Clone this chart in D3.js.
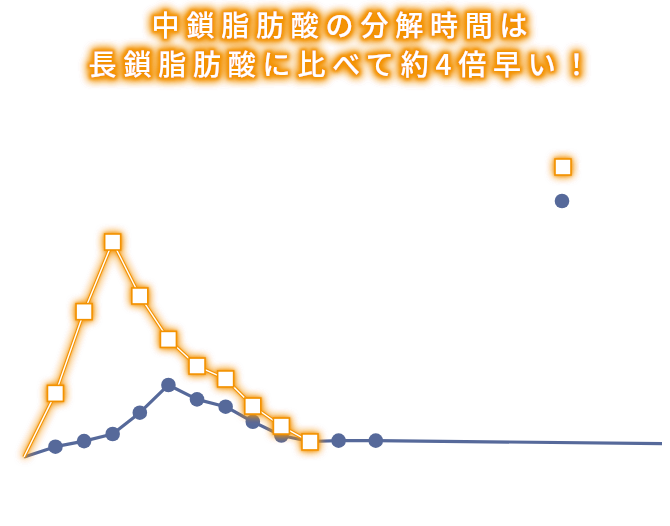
<!DOCTYPE html>
<html><head><meta charset="utf-8">
<script src="https://cdn.jsdelivr.net/npm/d3@7"></script>
<style>body{margin:0;background:#fff}svg{display:block}</style>
</head><body><svg id="c" width="670" height="526"></svg>
<script>
const titleLines = ["中鎖脂肪酸の分解時間は", "長鎖脂肪酸に比べて約4倍早い！"];
const seriesNames = ["中鎖脂肪酸", "長鎖脂肪酸"];
const mctX = [0, 1.1, 2.1, 3.1, 4.05, 5.05, 6.05, 7.05, 8, 9, 10];
const mctY = [0, 29.6, 67.6, 100, 74.9, 54.7, 42.3, 36.3, 23.7, 14.4, 7.0];
const lctX = [0, 1.1, 2.1, 3.1, 4.05, 5.05, 6.05, 7.05, 8, 9, 10, 11, 12.3, 24];
const lctY = [0, 4.8, 7.4, 10.7, 20.6, 33.5, 26.8, 23.4, 16.4, 10.0, 7.2, 7.6, 7.6, 6.0];

const W = 670, H = 526;
const ORANGE = "#f39200", BLUE = "#56699a";
const svg = d3.select("#c");
const defs = svg.append("defs");

function glow(id, s1, o1, s2, o2, dil) {
  const f = defs.append("filter").attr("id", id)
    .attr("filterUnits", "userSpaceOnUse").attr("x", 0).attr("y", 0).attr("width", W).attr("height", H);
  let src = "SourceAlpha";
  if (dil) { f.append("feMorphology").attr("in", "SourceAlpha").attr("operator", "dilate").attr("radius", dil).attr("result", "d"); src = "d"; }
  f.append("feGaussianBlur").attr("in", src).attr("stdDeviation", s1).attr("result", "b1");
  f.append("feFlood").attr("flood-color", ORANGE).attr("flood-opacity", o1).attr("result", "f1");
  f.append("feComposite").attr("in", "f1").attr("in2", "b1").attr("operator", "in").attr("result", "g1");
  f.append("feGaussianBlur").attr("in", src).attr("stdDeviation", s2).attr("result", "b2");
  f.append("feFlood").attr("flood-color", ORANGE).attr("flood-opacity", o2).attr("result", "f2");
  f.append("feComposite").attr("in", "f2").attr("in2", "b2").attr("operator", "in").attr("result", "g2");
  const m = f.append("feMerge");
  m.append("feMergeNode").attr("in", "g2");
  m.append("feMergeNode").attr("in", "g2");
  m.append("feMergeNode").attr("in", "g2");
  m.append("feMergeNode").attr("in", "g1");
  m.append("feMergeNode").attr("in", "SourceGraphic");
}
glow("glowS", 1.5, 0.8, 4.5, 0.55, 0);
glow("glowT", 1.5, 0.95, 5, 0.8, 1.5);

const x = d3.scaleLinear().domain([0, 10]).range([24, 310]);
const y = d3.scaleLinear().domain([0, 100]).range([457, 242]);

// axes (white, as in the reference)
svg.append("g").attr("transform", `translate(0,${y(0)})`)
  .call(d3.axisBottom(x).tickValues([]).tickSizeOuter(0))
  .call(g => g.selectAll("path,line").attr("stroke", "#fff"));
svg.append("g").attr("transform", `translate(${x(0)},0)`)
  .call(d3.axisLeft(y).tickValues([]).tickSizeOuter(0))
  .call(g => g.selectAll("path,line").attr("stroke", "#fff"));

defs.append("clipPath").attr("id", "clip").append("rect")
  .attr("x", 0).attr("y", 0).attr("width", 662).attr("height", H);

const plot = svg.append("g").attr("clip-path", "url(#clip)");

// blue series (long-chain)
const lct = lctX.map((v, i) => [v, lctY[i]]);
const line = d3.line().x(d => x(d[0])).y(d => y(d[1]));
plot.append("path").datum(lct).attr("d", line)
  .attr("fill", "none").attr("stroke", BLUE).attr("stroke-width", 3.2).attr("stroke-linejoin", "round");
plot.selectAll("circle.l").data(lct.slice(1)).join("circle").attr("class", "l")
  .attr("cx", d => x(d[0])).attr("cy", d => y(d[1])).attr("r", 7.3).attr("fill", BLUE);

// orange series (medium-chain)
const mct = mctX.map((v, i) => [v, mctY[i]]);
const og = plot.append("g").attr("filter", "url(#glowS)");
og.append("path").datum(mct).attr("d", line)
  .attr("fill", "none").attr("stroke", ORANGE).attr("stroke-width", 3.4).attr("stroke-linejoin", "miter");
og.append("path").datum(mct).attr("d", line)
  .attr("fill", "none").attr("stroke", "#fff").attr("stroke-width", 1.4).attr("stroke-linejoin", "miter");
og.selectAll("rect").data(mct.slice(1)).join("rect")
  .attr("x", d => x(d[0]) - 8).attr("y", d => y(d[1]) - 8).attr("width", 16).attr("height", 16)
  .attr("fill", "#fff").attr("stroke", ORANGE).attr("stroke-width", 1.6);

// legend
const lg = svg.append("g");
lg.append("rect").attr("x", 555).attr("y", 159).attr("width", 16).attr("height", 16)
  .attr("fill", "#fff").attr("stroke", ORANGE).attr("stroke-width", 1.6).attr("filter", "url(#glowS)");
lg.append("circle").attr("cx", 562).attr("cy", 201).attr("r", 7.3).attr("fill", BLUE);
lg.selectAll("text").data(seriesNames).join("text")
  .attr("x", 578).attr("y", (d, i) => 172 + i * 34)
  .attr("font-family", "Noto Sans CJK JP").attr("font-size", 14).attr("fill", "#fff").text(d => d);

// title
svg.append("g").attr("filter", "url(#glowT)")
  .selectAll("text").data(titleLines).join("text")
  .attr("x", 343).attr("y", (d, i) => 36 + i * 39)
  .attr("text-anchor", "middle")
  .attr("font-family", "'Noto Sans CJK JP', sans-serif").attr("font-weight", 500)
  .attr("font-size", 28).attr("letter-spacing", 6.8)
  .attr("fill", "#fff").text(d => d);
</script></body></html>
